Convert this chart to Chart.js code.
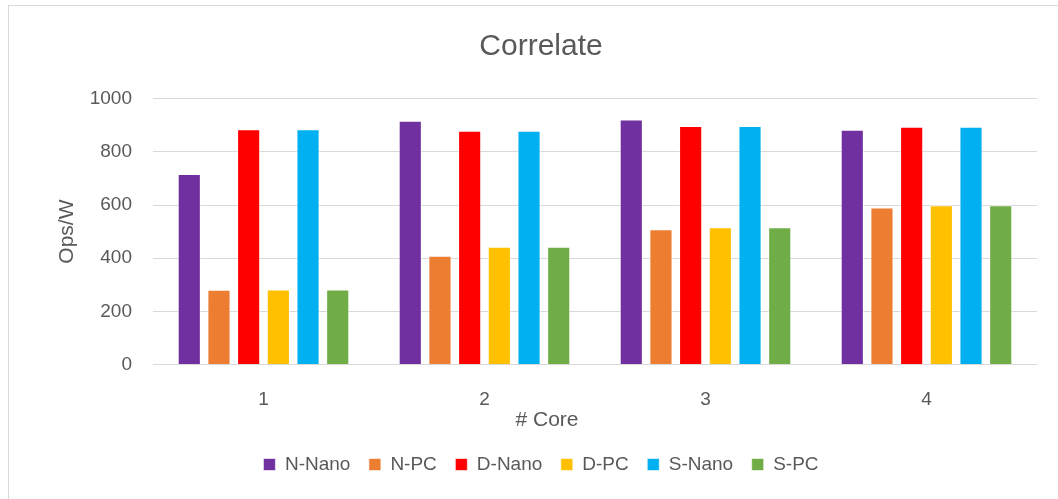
<!DOCTYPE html>
<html>
<head>
<meta charset="utf-8">
<script src="https://cdn.jsdelivr.net/npm/chart.js@4/dist/chart.umd.min.js"></script>
<style>
  html, body { margin: 0; padding: 0; background: #fff; }
  #wrap { position: relative; width: 1058px; height: 499px; overflow: hidden; }
  #frame { position: absolute; left: 8px; top: 5px; width: 1100px; height: 600px; border: 1px solid #d9d9d9; box-sizing: border-box; }
  canvas { position: absolute; left: 0; top: 0; }
</style>
</head>
<body>
<div id="wrap">
  <div id="frame"></div>
  <canvas id="chart" width="1058" height="499"></canvas>
</div>
<script>
// Ops/W per core count
const cores = ['1', '2', '3', '4'];
const nNano = [717, 917, 922, 883];
const nPC = [281, 409, 509, 591];
const dNano = [885, 879, 897, 894];
const dPC = [282, 443, 516, 599];
const sNano = [885, 879, 897, 894];
const sPC = [282, 443, 516, 599];
const yTicks = [0, 200, 400, 600, 800, 1000];

const FONT = "'Liberation Sans', Arial, sans-serif";
const TEXT = '#595959';

function series(label, data, color) {
    return {
        label: label,
        data: data,
        backgroundColor: color,
        borderColor: 'rgba(255,255,255,0.6)',
        borderWidth: 1,
        categoryPercentage: 0.806,
        barPercentage: 0.78
    };
}

// x axis title sits centred on the whole chart frame, not on the plot
const coreTitle = {
    id: 'coreTitle',
    afterDraw(chart) {
        const ctx = chart.ctx;
        ctx.save();
        ctx.fillStyle = TEXT;
        ctx.font = '21px ' + FONT;
        ctx.textAlign = 'center';
        ctx.textBaseline = 'middle';
        ctx.fillText('# Core', 547, 420);
        ctx.restore();
    }
};

new Chart(document.getElementById('chart').getContext('2d'), {
    type: 'bar',
    data: {
        labels: cores,
        datasets: [
            series('N-Nano', nNano, '#7030A0'),
            series('N-PC', nPC, '#ED7D31'),
            series('D-Nano', dNano, '#FF0000'),
            series('D-PC', dPC, '#FFC000'),
            series('S-Nano', sNano, '#00B0F0'),
            series('S-PC', sPC, '#70AD47')
        ]
    },
    plugins: [coreTitle],
    options: {
        responsive: false,
        animation: false,
        layout: { padding: { left: 45, right: 21, top: 29, bottom: 15 } },
        plugins: {
            title: {
                display: true,
                text: 'Correlate',
                color: TEXT,
                font: { family: FONT, size: 30, weight: 'normal' },
                padding: { top: 0, bottom: 33.7 }
            },
            legend: {
                position: 'bottom',
                labels: {
                    color: TEXT,
                    font: { family: FONT, size: 19 },
                    boxWidth: 12,
                    boxHeight: 12,
                    padding: 18.5
                }
            },
            tooltip: { enabled: false }
        },
        scales: {
            x: {
                grid: { display: false },
                border: { display: false },
                ticks: { color: TEXT, font: { family: FONT, size: 19 }, padding: 16 },
                afterFit: s => { s.height = 72; }
            },
            y: {
                min: 0,
                max: 1000,
                afterBuildTicks: axis => { axis.ticks = yTicks.map(v => ({ value: v })); },
                afterFit: s => { s.width = 108; },
                grid: { color: '#d9d9d9', lineWidth: 1, drawTicks: false },
                border: { display: false },
                ticks: {
                    color: TEXT,
                    font: { family: FONT, size: 19 },
                    padding: 21,
                    callback: v => String(v)
                },
                title: {
                    display: true,
                    text: 'Ops/W',
                    color: TEXT,
                    font: { family: FONT, size: 21 },
                    padding: { top: 10, bottom: 9.5 }
                }
            }
        }
    }
});
</script>
</body>
</html>
